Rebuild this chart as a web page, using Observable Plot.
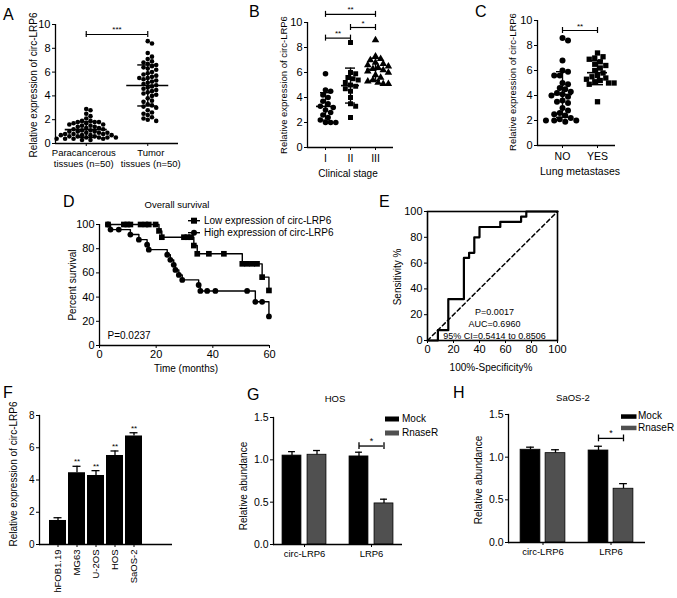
<!DOCTYPE html>
<html><head><meta charset="utf-8">
<script src="https://cdn.jsdelivr.net/npm/d3@7"></script>
<script src="https://cdn.jsdelivr.net/npm/@observablehq/plot@0.6"></script>
<style>
body{margin:0;background:#fff;}
#wrap{position:relative;width:677px;height:598px;overflow:hidden;background:#fff;font-family:"Liberation Sans",Arial,Helvetica,sans-serif;}
</style></head><body><div id="wrap"></div>
<script>
// ---------------- DATA ----------------
// A
const aCategories = ["Paracancerous\ntissues (n=50)", "Tumor\ntissues (n=50)"];
const paracancerous = [2.9,2.8,2.5,2.3,2.1,1.9,1.9,1.8,1.8,1.8,1.7,1.7,1.6,1.5,1.5,1.4,1.4,1.3,1.3,1.2,1.2,1.1,1.1,1.0,1.0,1.0,0.9,0.9,0.9,0.8,0.8,0.8,0.7,0.7,0.7,0.7,0.6,0.6,0.6,0.5,0.5,0.5,0.5,0.4,0.4,0.4,0.4,0.3,0.3,1.6];
const tumor = [8.6,8.4,7.6,7.3,7.1,6.9,6.8,6.7,6.6,6.5,6.4,6.2,6.0,5.9,5.8,5.6,5.5,5.5,5.4,5.3,5.2,5.1,5.0,4.9,4.8,4.7,4.6,4.5,4.4,4.3,4.2,4.1,4.0,3.8,3.6,3.5,3.3,3.2,3.1,3.0,2.8,2.6,2.5,2.4,2.2,2.1,2.0,1.9,5.7,6.3];
const aSig = [{a:0,b:1,y:9.16,label:"***"}];
// B
const stageCategories = ["I","II","III"];
const stageI = [5.9,4.6,4.5,4.2,4.0,3.7,3.5,3.3,3.2,3.0,2.8,2.6,2.4,2.2,2.0,2.0,2.0];
const stageII = [8.4,6.0,5.9,5.6,5.5,5.4,5.2,5.0,4.9,4.7,4.5,4.0,3.5,3.3,2.4];
const stageIII = [8.6,7.3,7.1,7.0,6.8,6.7,6.6,6.5,6.4,6.3,6.2,6.1,6.0,5.8,5.6,5.4,5.3,5.2,5.1,5.1];
const bSig = [{a:0,b:2,y:10.65,label:"**"},{a:1,b:2,y:9.6,label:"*"},{a:0,b:1,y:8.75,label:"**"}];
// C
const metCategories = ["NO","YES"];
const metNo = [8.6,8.4,6.8,6.0,5.9,5.6,5.6,5.0,4.9,4.6,4.5,4.3,4.2,4.1,4.0,3.9,3.6,3.5,3.4,3.0,2.8,2.6,2.5,2.4,2.2,2.0,2.0,2.0,1.9,2.1];
const metYes = [7.4,7.1,7.0,6.9,6.7,6.5,6.4,6.2,6.0,5.8,5.6,5.5,5.4,5.3,5.2,5.1,5.0,5.0,4.9,3.5];
const cSig = [{a:0,b:1,y:9.2,label:"**"}];
// D
const kmLowTime = [3,21,22,33.3,34.5,50.4,57.4,59.8];
const kmLowSurv = [100,94.7,89.5,82.6,75.8,67.5,56.5,45.5];
const kmLowMarkT = [3,8.6,9.8,10.9,14.5,16.2,17.4,19.8,21,22,29.8,31,32.3,33.3,34.5,38.6,43.9,50.4,52.1,53.9,55.6,57.4,59.8];
const kmLowMarkS = [100,100,100,100,100,100,100,100,94.7,89.5,89.5,89.5,89.5,82.6,75.8,75.8,75.8,67.5,67.5,67.5,67.5,56.5,45.5];
const kmHighTime = [3,3.9,10.9,13.9,16.8,17.4,23.9,25,26.2,26.8,28,29.2,35,35.6,55,59.8];
const kmHighSurv = [100,95.8,91.7,87.5,83.3,79.2,75,70.8,66.7,62.5,58.3,54.2,50,45.1,36.1,24];
const kmHighMarkT = [3,3.9,6.8,10.9,13.9,16.8,17.4,23.9,25,26.2,26.8,28,29.2,35,35.6,38,40.9,52.1,55,57.4,59.8];
const kmHighMarkS = [100,95.8,95.8,91.7,87.5,83.3,79.2,75,70.8,66.7,62.5,58.3,54.2,50,45.1,45.1,45.1,45.1,36.1,36.1,24];
const kmLegend = ["Low expression of circ-LRP6","High expression of circ-LRP6"];
// E
const rocFpr = [0,8,8,16,16,28,28,32,32,36,36,40,40,56,56,72,72,76,76,100];
const rocTpr = [0,0,8,8,32,32,64,64,68,68,80,80,88,88,92,92,96,96,100,100];
const chanceLine = [0,100];
const rocText = "P=0.0017\nAUC=0.6960\n95% CI=0.5414 to 0.8506";
// F
const cellLines = ["hFOB1.19","MG63","U-2OS","HOS","SaOS-2"];
const cellMeans = [1.49,4.45,4.28,5.52,6.73];
const cellErr = [0.17,0.40,0.30,0.28,0.20];
const cellSig = ["","**","**","**","**"];
// G / H
const rnaTargets = ["circ-LRP6","LRP6"];
const treatments = ["Mock","RnaseR"];
const treatmentColors = ["#000000","#505050"];
const hosMock = [1.05,1.04], hosMockErr = [0.047,0.05];
const hosRnase = [1.06,0.485], hosRnaseErr = [0.05,0.05];
const saosMock = [1.087,1.078], saosMockErr = [0.03,0.05];
const saosRnase = [1.047,0.63], saosRnaseErr = [0.04,0.06];

// ---------------- HELPERS ----------------
const FONT = '"Liberation Sans", Arial, Helvetica, sans-serif';
const wrap = document.getElementById("wrap");
const baseStyle = {fontFamily: FONT, fontSize: "10px", color: "#000", background: "transparent", overflow: "visible"};
function place(el, left, top) {
  el.style.position = "absolute"; el.style.left = left + "px"; el.style.top = top + "px";
  wrap.appendChild(el);
}
function swarm(values, r, ky) {
  const order = d3.range(values.length).sort((a, b) => values[b] - values[a]);
  const placed = [], off = new Array(values.length);
  const d = 2 * r * 0.92, step = d / 2;
  for (const i of order) {
    const py = values[i] * ky;
    for (let k = 0; k < 400; k++) {
      const c = k === 0 ? 0 : (k % 2 ? 1 : -1) * Math.ceil(k / 2) * step;
      if (placed.every(([qx, qy]) => (qx - c) ** 2 + (qy - py) ** 2 >= d * d)) { off[i] = c; placed.push([c, py]); break; }
    }
  }
  return off;
}
function scatterPanel(o) {
  const kx = (o.width - o.mL - o.mR) / (o.xDomain[1] - o.xDomain[0]);
  const ky = (o.height - o.mT - o.mB) / 10;
  const marks = [];
  o.groups.forEach((vals, i) => {
    const off = swarm(vals, o.r, ky);
    const pts = vals.map((v, j) => ({x: i + off[j] / kx, v}));
    marks.push(Plot.dot(pts, {x: "x", y: "v", r: o.r, symbol: o.symbols[i], fill: "#000", stroke: "none"}));
  });
  const stats = o.groups.map((vals, i) => {
    const m = d3.mean(vals), s = d3.deviation(vals);
    return {i, m, lo: m - s, hi: m + s};
  });
  const mh = o.meanHalf / kx, ch = o.capHalf / kx, bc = o.bracketCap / ky;
  marks.push(
    Plot.ruleX(stats, {x: "i", y1: "lo", y2: "hi", strokeWidth: 1.4}),
    Plot.ruleY(stats, {y: "m", x1: d => d.i - mh, x2: d => d.i + mh, strokeWidth: 1.6}),
    Plot.ruleY(stats, {y: "lo", x1: d => d.i - ch, x2: d => d.i + ch, strokeWidth: 1.4}),
    Plot.ruleY(stats, {y: "hi", x1: d => d.i - ch, x2: d => d.i + ch, strokeWidth: 1.4}),
    Plot.ruleY(o.brackets, {y: "y", x1: "a", x2: "b", strokeWidth: 1.2}),
    Plot.ruleX(o.brackets.flatMap(b => [{x: b.a, y: b.y}, {x: b.b, y: b.y}]), {x: "x", y1: d => d.y - bc, y2: d => d.y + bc, strokeWidth: 1.2}),
    Plot.text(o.brackets, {x: d => (d.a + d.b) / 2, y: "y", text: "label", dy: -2, lineAnchor: "bottom", fontSize: 8}),
    Plot.ruleX([o.xDomain[0]], {strokeWidth: 1.3}),
    Plot.ruleY([0], {strokeWidth: 1.3}),
    Plot.axisY({ticks: [0, 2, 4, 6, 8, 10], tickSize: 3, tickPadding: 2, label: null, fontSize: o.tickFont})
  );
  const catIdx = o.cats.map((c, i) => ({i, c}));
  marks.push(Plot.axisX({ticks: catIdx.map(d => d.i), tickSize: 3, tickFormat: () => "", label: null}));
  catIdx.forEach((d, i) => marks.push(
    Plot.text([d], {x: "i", text: "c", frameAnchor: "bottom", lineAnchor: "top", dy: o.catDy, dx: o.catDx[i], fontSize: o.catFont, lineHeight: 1.12})
  ));
  return Plot.plot({
    width: o.width, height: o.height, marginLeft: o.mL, marginTop: o.mT, marginRight: o.mR, marginBottom: o.mB,
    x: {domain: o.xDomain}, y: {domain: [0, 10]}, style: baseStyle, marks
  });
}
function rnasePanel(o) {
  const frameW = o.width - o.mL - o.mR;
  const pi = 0.1, po = o.po;
  const stepW = frameW / (2 - pi + 2 * po), bw = stepW * (1 - pi);
  const barW = 20, sep = 12.5, capW = 8;
  const series = [
    rnaTargets.map((t, i) => ({t, m: o.mock[i], e: o.mockErr[i]})),
    rnaTargets.map((t, i) => ({t, m: o.rnase[i], e: o.rnaseErr[i]}))
  ];
  const marks = [];
  series.forEach((rows, k) => {
    const dx = (k === 0 ? -1 : 1) * sep;
    marks.push(
      Plot.barY(rows, {x: "t", y: "m", fill: treatmentColors[k], stroke: "#000", strokeWidth: 0.8, insetLeft: (bw - barW) / 2, insetRight: (bw - barW) / 2, dx}),
      Plot.ruleX(rows, {x: "t", y1: "m", y2: d => d.m + d.e, dx, strokeWidth: 1.3}),
      Plot.tickY(rows, {x: "t", y: d => d.m + d.e, dx, insetLeft: (bw - capW) / 2, insetRight: (bw - capW) / 2, strokeWidth: 1.3})
    );
  });
  const sig = [{t: "LRP6", y: o.sigY, label: "*"}];
  marks.push(
    Plot.tickY(sig, {x: "t", y: "y", insetLeft: bw / 2 - sep, insetRight: bw / 2 - sep, strokeWidth: 1.3}),
    Plot.ruleX(sig, {x: "t", y1: d => d.y - 0.04, y2: d => d.y + 0.04, dx: -sep, strokeWidth: 1.3}),
    Plot.ruleX(sig, {x: "t", y1: d => d.y - 0.04, y2: d => d.y + 0.04, dx: sep, strokeWidth: 1.3}),
    Plot.text(sig, {x: "t", y: "y", text: "label", dy: -2, lineAnchor: "bottom", fontSize: 9}),
    Plot.frame({anchor: "left", strokeWidth: 1.3}),
    Plot.ruleY([0], {strokeWidth: 1.3}),
    Plot.axisY({ticks: [0, 0.5, 1, 1.5], tickFormat: d3.format(".1f"), tickSize: 3, tickPadding: 2, label: null, fontSize: 10.5}),
    Plot.axisX({tickSize: 3, tickPadding: 3, label: null, fontSize: 9.5})
  );
  return Plot.plot({
    width: o.width, height: o.height, marginLeft: o.mL, marginTop: o.mT, marginRight: o.mR, marginBottom: o.mB,
    x: {domain: rnaTargets, paddingInner: pi, paddingOuter: po, align: 0.5}, y: {domain: [0, 1.5]},
    style: baseStyle, marks
  });
}

// ---------------- PANEL A ----------------
place(scatterPanel({groups: [paracancerous, tumor], cats: aCategories, symbols: ["circle", "circle"], r: 2.3,
  width: 185, height: 175, mL: 55, mT: 24, mR: 7, mB: 32, xDomain: [-0.5, 1.5],
  meanHalf: 21, capHalf: 10, bracketCap: 3, brackets: aSig,
  tickFont: 11, catFont: 9.5, catDy: 5, catDx: [-2.5, 3]}), 0, 0);
// ---------------- PANEL B ----------------
place(scatterPanel({groups: [stageI, stageII, stageIII], cats: stageCategories, symbols: ["circle", "square", "triangle"], r: 2.8,
  width: 180, height: 180, mL: 87, mT: 22, mR: 7, mB: 33, xDomain: [-0.72, 2.72],
  meanHalf: 9, capHalf: 5, bracketCap: 3, brackets: bSig,
  tickFont: 11, catFont: 10.5, catDy: 6, catDx: [0, 0, 0]}), 220, 0);
// ---------------- PANEL C ----------------
place(scatterPanel({groups: [metNo, metYes], cats: metCategories, symbols: ["circle", "square"], r: 3,
  width: 185, height: 180, mL: 97, mT: 20, mR: 10, mB: 35, xDomain: [-0.714, 1.514],
  meanHalf: 10, capHalf: 6, bracketCap: 3, brackets: cSig,
  tickFont: 11, catFont: 10.5, catDy: 6, catDx: [0, 0]}), 440, 0);

// ---------------- PANEL D ----------------
{
  const low = kmLowTime.map((t, i) => ({t, s: kmLowSurv[i]}));
  const high = kmHighTime.map((t, i) => ({t, s: kmHighSurv[i]}));
  const lowM = kmLowMarkT.map((t, i) => ({t, s: kmLowMarkS[i]}));
  const highM = kmHighMarkT.map((t, i) => ({t, s: kmHighMarkS[i]}));
  place(Plot.plot({
    width: 280, height: 180, marginLeft: 99, marginTop: 29, marginRight: 11, marginBottom: 30,
    x: {domain: [0, 60]}, y: {domain: [0, 100]}, style: baseStyle,
    marks: [
      Plot.line(low, {x: "t", y: "s", curve: "step-after", strokeWidth: 1.4}),
      Plot.line(high, {x: "t", y: "s", curve: "step-after", strokeWidth: 1.4}),
      Plot.dot(lowM, {x: "t", y: "s", symbol: "square", r: 3.2, fill: "#000"}),
      Plot.dot(highM, {x: "t", y: "s", symbol: "circle", r: 2.9, fill: "#000"}),
      Plot.text(["P=0.0237"], {frameAnchor: "bottom-left", textAnchor: "start", lineAnchor: "bottom", dx: 8, dy: -7, fontSize: 10}),
      Plot.ruleX([0], {strokeWidth: 1.3}),
      Plot.ruleY([0], {strokeWidth: 1.3}),
      Plot.axisY({ticks: [0, 20, 40, 60, 80, 100], tickSize: 3, tickPadding: 2, label: null, fontSize: 11}),
      Plot.axisX({ticks: [0, 20, 40, 60], tickSize: 3, tickPadding: 2, label: null, fontSize: 11})
    ]
  }), 0, 195);
}
// ---------------- PANEL E ----------------
{
  const roc = rocFpr.map((x, i) => ({x, y: rocTpr[i]}));
  const diag = chanceLine.map(v => ({x: v, y: v}));
  place(Plot.plot({
    width: 230, height: 180, marginLeft: 87, marginTop: 16, marginRight: 13, marginBottom: 35,
    x: {domain: [0, 100]}, y: {domain: [0, 100]}, style: baseStyle,
    marks: [
      Plot.line(diag, {x: "x", y: "y", strokeDasharray: "4,3", strokeWidth: 1.5}),
      Plot.line(roc, {x: "x", y: "y", strokeWidth: 2.2}),
      Plot.frame({strokeWidth: 1.6}),
      Plot.text([rocText], {frameAnchor: "bottom", textAnchor: "middle", lineAnchor: "bottom", dx: 2, dy: -2, fontSize: 9, lineHeight: 1.3}),
      Plot.axisY({ticks: [0, 20, 40, 60, 80, 100], tickSize: 3, tickPadding: 2, label: null, fontSize: 11}),
      Plot.axisX({ticks: [0, 20, 40, 60, 80, 100], tickSize: 3, tickPadding: 2, label: null, fontSize: 11})
    ]
  }), 340, 195);
}
// ---------------- PANEL F ----------------
{
  const cells = cellLines.map((name, i) => ({name, m: cellMeans[i], e: cellErr[i], s: cellSig[i]}));
  place(Plot.plot({
    width: 180, height: 213, marginLeft: 39, marginTop: 30, marginRight: 8, marginBottom: 54,
    x: {domain: cellLines, paddingInner: 0.12, paddingOuter: 1.015, align: 0.244}, y: {domain: [0, 8]}, style: baseStyle,
    marks: [
      Plot.barY(cells, {x: "name", y: "m", fill: "#000"}),
      Plot.ruleX(cells, {x: "name", y1: "m", y2: d => d.m + d.e, strokeWidth: 1.3}),
      Plot.tickY(cells, {x: "name", y: d => d.m + d.e, insetLeft: 4.5, insetRight: 4.5, strokeWidth: 1.3}),
      Plot.text(cells, {x: "name", y: d => d.m + d.e, text: "s", dy: -2, lineAnchor: "bottom", fontSize: 8}),
      Plot.frame({anchor: "left", strokeWidth: 1.3}),
      Plot.ruleY([0], {strokeWidth: 1.3}),
      Plot.axisY({ticks: [0, 2, 4, 6, 8], tickSize: 3, tickPadding: 2, label: null, fontSize: 10}),
      Plot.axisX({tickRotate: -90, tickSize: 3, tickPadding: 2, label: null, fontSize: 9.5})
    ]
  }), 0, 385);
}
// ---------------- PANEL G / H ----------------
place(rnasePanel({mock: hosMock, mockErr: hosMockErr, rnase: hosRnase, rnaseErr: hosRnaseErr, sigY: 1.163, po: 0,
  width: 210, height: 213, mL: 73, mT: 32, mR: 8, mB: 54}), 200, 385);
place(rnasePanel({mock: saosMock, mockErr: saosMockErr, rnase: saosRnase, rnaseErr: saosRnaseErr, sigY: 1.22, po: 0.057,
  width: 213, height: 213, mL: 68, mT: 29, mR: 8, mB: 56}), 440, 385);

// ---------------- OVERLAY TEXT (letters, titles, axis titles, legends) ----------------
const NS = "http://www.w3.org/2000/svg";
const ov = document.createElementNS(NS, "svg");
ov.setAttribute("width", 677); ov.setAttribute("height", 598);
ov.style.fontFamily = FONT; ov.style.pointerEvents = "none";
function el(name, attrs, text) {
  const e = document.createElementNS(NS, name);
  for (const k in attrs) e.setAttribute(k, attrs[k]);
  if (text != null) e.textContent = text;
  ov.appendChild(e); return e;
}
function txt(x, y, s, size, anchor = "start", rot = 0) {
  const a = {"font-size": size, "text-anchor": anchor, fill: "#000"};
  if (rot) { a.transform = `translate(${x},${y}) rotate(${rot})`; a["dominant-baseline"] = "central"; }
  else { a.x = x; a.y = y; }
  return el("text", a, s);
}
// panel letters
[["A",3,19.5],["B",249,17],["C",475,17],["D",63,207],["E",379,207],["F",3,398],["G",247,400],["H",453,398]]
  .forEach(([s, x, y]) => txt(x, y, s, 16));
// y axis titles
const yTitle = "Relative expression of circ-LRP6";
txt(33, 85, yTitle, 10, "middle", -90);
txt(283, 85, yTitle, 9.5, "middle", -90);
txt(512, 82, yTitle, 9.5, "middle", -90);
txt(72, 285, "Percent survival", 10, "middle", -90);
txt(397, 277, "Sensitivity %", 10, "middle", -90);
txt(13, 474, yTitle, 10, "middle", -90);
txt(243, 486, "Relative abundance", 10, "middle", -90);
txt(478, 480, "Relative abundance", 10, "middle", -90);
// x axis titles
txt(348, 176.5, "Clinical stage", 10, "middle");
txt(580, 175, "Lung metastases", 10.5, "middle");
txt(186, 371.5, "Time (months)", 10, "middle");
txt(491, 370.5, "100%-Specificity%", 10, "middle");
// titles
txt(177, 208, "Overall survival", 9.5, "middle");
txt(335, 402, "HOS", 9.5, "middle");
txt(573, 401, "SaOS-2", 9.5, "middle");
// legend D
el("line", {x1: 188, x2: 200, y1: 220.7, y2: 220.7, stroke: "#000", "stroke-width": 1.4});
el("rect", {x: 191, y: 217.7, width: 6, height: 6, fill: "#000"});
txt(204, 224, kmLegend[0], 10);
el("line", {x1: 188, x2: 200, y1: 232.7, y2: 232.7, stroke: "#000", "stroke-width": 1.4});
el("circle", {cx: 194, cy: 232.7, r: 3, fill: "#000"});
txt(204, 236, kmLegend[1], 10);
// legend G
el("rect", {x: 385, y: 416.5, width: 14, height: 5, fill: treatmentColors[0]});
txt(402, 421.5, treatments[0], 10);
el("rect", {x: 385, y: 430.5, width: 14, height: 5, fill: treatmentColors[1]});
txt(402, 435.5, treatments[1], 10);
// legend H
el("rect", {x: 621, y: 414.3, width: 15.5, height: 4.5, fill: treatmentColors[0]});
txt(638, 419, treatments[0], 10);
el("rect", {x: 621, y: 425.7, width: 15.5, height: 4.5, fill: treatmentColors[1]});
txt(638, 430.5, treatments[1], 10);
place(ov, 0, 0);
</script></body></html>
